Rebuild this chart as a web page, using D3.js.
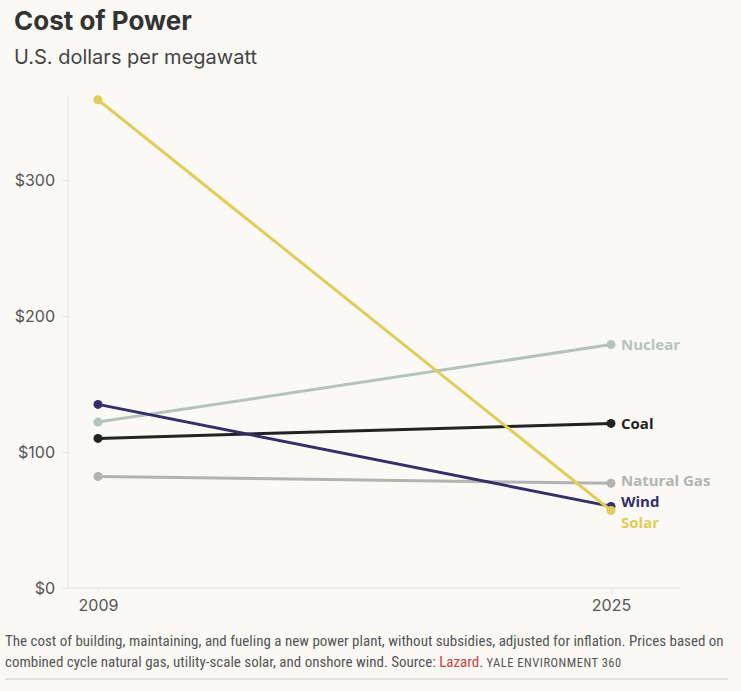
<!DOCTYPE html>
<html><head><meta charset="utf-8">
<script src="https://cdn.jsdelivr.net/npm/d3@7"></script>
<style>
html,body{margin:0;padding:0;background:#faf9f6;}
svg{display:block;}
</style></head>
<body>
<svg id="chart" width="741" height="691"></svg>
<script>
const years = [2009, 2025];
const seriesNames = ["Nuclear", "Coal", "Natural Gas", "Wind", "Solar"];
const nuclear = [122, 179];
const coal = [110, 121];
const naturalGas = [82, 77];
const wind = [135, 60];
const solar = [359, 57];
const yTicks = [0, 100, 200, 300];
const colors = ["#b5c4bb", "#222222", "#b3b3b3", "#342f69", "#e2cd58"];
const labelOffsets = [0, 0, -3, -5, 12];

const values = [nuclear, coal, naturalGas, wind, solar];
const series = seriesNames.map((n, i) => ({name: n, values: values[i], color: colors[i], dy: labelOffsets[i]}));

const svg = d3.select("#chart");
svg.append("rect").attr("width", 741).attr("height", 691).attr("fill", "#faf9f6");

svg.append("text").attr("x", 14).attr("y", 30).text("Cost of Power")
  .attr("font-family", "Inter, 'Open Sans', sans-serif").attr("font-weight", 700)
  .attr("font-size", 26).attr("fill", "#333");
svg.append("text").attr("x", 14).attr("y", 64).text("U.S. dollars per megawatt")
  .attr("font-family", "Inter, 'Open Sans', sans-serif").attr("font-weight", 400)
  .attr("font-size", 20).attr("fill", "#444");

const x = d3.scalePoint().domain(years).range([98, 611]);
const y = d3.scaleLinear().domain([0, 100]).range([588, 452]);

// frame lines
svg.append("line").attr("x1", 68).attr("x2", 68).attr("y1", y(361)).attr("y2", y(0))
  .attr("stroke", "#ebe9e4").attr("stroke-width", 1.5);
svg.append("line").attr("x1", 68).attr("x2", 680).attr("y1", y(0)).attr("y2", y(0))
  .attr("stroke", "#ebe9e4").attr("stroke-width", 1.5);

const yAxis = svg.append("g").attr("transform", "translate(68,0)")
  .call(d3.axisLeft(y).tickValues(yTicks).tickFormat(d => "$" + d).tickSize(6).tickPadding(7));
yAxis.select(".domain").remove();
yAxis.selectAll(".tick line").attr("stroke", "#e6e4df");
yAxis.selectAll(".tick text").attr("font-family", "Inter, 'Open Sans', sans-serif")
  .attr("font-size", 16).attr("fill", "#555");

const xAxis = svg.append("g").attr("transform", `translate(0,${y(0)})`)
  .call(d3.axisBottom(x).tickSize(6).tickPadding(6).tickFormat(d3.format("d")));
xAxis.select(".domain").remove();
xAxis.selectAll(".tick line").attr("stroke", "#ebe9e4");
xAxis.selectAll(".tick text").attr("font-family", "Inter, 'Open Sans', sans-serif")
  .attr("font-size", 16).attr("fill", "#555");

const line = d3.line().x((d, i) => x(years[i])).y(d => y(d));
const drawOrder = [2, 0, 1, 3, 4];
drawOrder.forEach(i => {
  const s = series[i];
  const g = svg.append("g");
  g.append("path").attr("d", line(s.values)).attr("fill", "none")
    .attr("stroke", s.color).attr("stroke-width", 3);
  g.selectAll("circle").data(s.values).join("circle")
    .attr("cx", (d, j) => x(years[j])).attr("cy", d => y(d)).attr("r", 4.5).attr("fill", s.color);
  g.append("text").attr("x", x(years[1]) + 10).attr("y", y(s.values[1]) + s.dy)
    .attr("dy", "0.35em").text(s.name)
    .attr("font-family", "'Open Sans', Inter, sans-serif").attr("font-weight", 700)
    .attr("font-size", 15).attr("fill", s.color);
});

const foot = svg.append("g").attr("font-family", "'Liberation Sans Narrow', 'Roboto Condensed', Roboto, sans-serif")
  .attr("font-size", 15).attr("fill", "#555");
foot.append("text").attr("x", 5).attr("y", 646)
  .text("The cost of building, maintaining, and fueling a new power plant, without subsidies, adjusted for inflation. Prices based on");
const l2 = foot.append("text").attr("x", 5).attr("y", 667);
l2.append("tspan").text("combined cycle natural gas, utility-scale solar, and onshore wind. Source: ");
l2.append("tspan").text("Lazard").attr("fill", "#c9423f");
l2.append("tspan").text(". ");
l2.append("tspan").text("YALE ENVIRONMENT 360").attr("font-size", 12.5).attr("letter-spacing", 0.5);

svg.append("line").attr("x1", 5).attr("x2", 728).attr("y1", 679).attr("y2", 679)
  .attr("stroke", "#c8c8c8").attr("stroke-width", 1);
</script>
</body></html>
